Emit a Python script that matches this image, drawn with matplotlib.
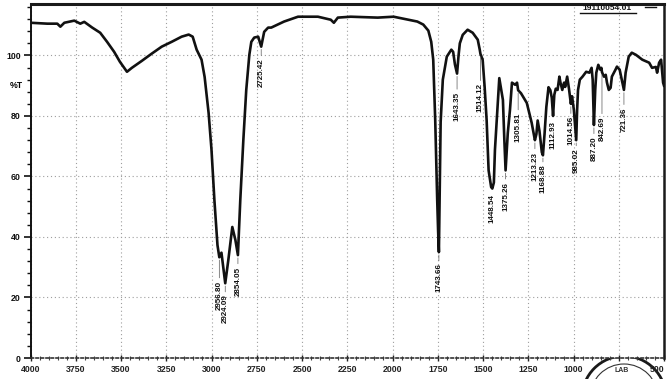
import matplotlib
matplotlib.use("Agg")
import matplotlib.pyplot as plt
import numpy as np
from matplotlib.ticker import MultipleLocator, FixedLocator
from matplotlib.patches import Circle
from matplotlib.lines import Line2D

# ---------------- data ----------------
wavenumber = [
    4000, 3907, 3852, 3835, 3813, 3758, 3725, 3703, 3659, 3615,
    3577, 3538, 3506, 3467, 3440, 3385, 3330, 3275, 3220, 3165,
    3126, 3104, 3082, 3055, 3038, 3016, 3000, 2984, 2967, 2956.8,
    2945, 2924.1, 2907, 2885, 2868, 2854.05, 2841, 2824, 2808, 2791,
    2780, 2764, 2742, 2725.42, 2709, 2687, 2670, 2599, 2522, 2412,
    2341, 2324, 2302, 2231, 2082, 1994, 1863, 1830, 1802, 1786,
    1775, 1764, 1753, 1748, 1743.66, 1739, 1734, 1722, 1700, 1675,
    1665, 1655, 1643.35, 1635, 1628, 1612, 1585, 1557, 1529, 1518,
    1514.12, 1502, 1491, 1480, 1469, 1455, 1448.54, 1440, 1434, 1424,
    1410, 1390, 1382, 1375.26, 1363, 1351, 1340, 1322, 1312, 1305.81,
    1290, 1258, 1231, 1213.23, 1205, 1198, 1188, 1175, 1168.88, 1160,
    1150, 1138, 1128, 1120, 1112.93, 1106, 1098, 1088, 1078, 1072,
    1062, 1052, 1046, 1035, 1025, 1014.56, 1008, 998, 985.02, 980,
    975, 965, 950, 930, 912, 900, 894, 887.2, 880, 874,
    863, 852, 846, 842.69, 832, 822, 815, 805, 795, 788,
    768, 760, 745, 730, 721.36, 712, 695, 678, 655, 620,
    582, 566, 545, 538, 527, 516, 505, 500,
]
transmittance = [
    110.8, 110.5, 110.5, 109.5, 110.8, 111.5, 110.5, 111.1, 109.2, 107.5,
    104.5, 101.2, 97.9, 94.6, 95.9, 98.2, 100.6, 102.9, 104.5, 106.2,
    106.9, 106.2, 101.9, 98.6, 92.9, 81.0, 68.8, 52.2, 37.3, 33.3,
    34.8, 24.7, 32.4, 43.3, 39.0, 34.0, 52.2, 72.1, 88.6, 100.2,
    104.5, 105.9, 106.2, 102.9, 107.8, 109.2, 109.2, 111.2, 112.8, 112.8,
    111.8, 110.8, 112.5, 112.8, 112.5, 112.8, 111.2, 110.2, 108.2, 104.5,
    98.6, 78.7, 52.2, 42.0, 35.0, 55.0, 78.0, 92.0, 99.6, 101.9,
    101.2, 97.0, 94.0, 100.0, 104.0, 106.8, 108.5, 107.5, 105.2, 101.9,
    100.5, 98.6, 89.6, 78.7, 62.0, 56.5, 56.0, 58.0, 68.8, 78.7,
    92.5, 85.3, 72.0, 62.0, 74.4, 82.0, 91.0, 90.3, 91.0, 88.5,
    87.5, 84.3, 77.7, 72.0, 74.0, 78.5, 75.0, 68.0, 67.0, 74.0,
    83.0, 89.5, 88.5, 86.0, 80.0, 87.0, 89.0, 88.6, 93.0, 91.0,
    88.6, 91.0, 89.6, 93.0, 89.0, 84.0, 86.5, 82.0, 72.0, 82.0,
    88.6, 92.0, 93.0, 94.6, 94.3, 95.9, 92.0, 77.0, 88.6, 94.3,
    96.9, 95.3, 95.9, 94.5, 93.0, 93.6, 91.0, 88.6, 89.3, 93.0,
    95.3, 96.3, 95.3, 91.0, 88.6, 94.3, 99.6, 100.9, 100.2, 98.6,
    97.6, 95.9, 96.2, 94.3, 97.6, 98.6, 91.0, 90.0,
]

peak_wavenumbers = [2956.80, 2924.09, 2854.05, 2725.42, 1743.66, 1643.35,
                    1514.12, 1448.54, 1375.26, 1305.81, 1213.23, 1168.88,
                    1112.93, 1014.56, 985.02, 887.20, 842.69, 721.36]
peak_labels = ["2956.80", "2924.09", "2854.05", "2725.42", "1743.66", "1643.35",
               "1514.12", "1448.54", "1375.26", "1305.81", "1213.23", "1168.88",
               "1112.93", "1014.56", "985.02", "887.20", "842.69", "721.36"]

# 750 is hidden under the lab stamp in the reference, so it carries no label
x_ticks = [4000, 3750, 3500, 3250, 3000, 2750, 2500, 2250, 2000,
           1750, 1500, 1250, 1000, 750, 500]
x_tick_labels = ["4000", "3750", "3500", "3250", "3000", "2750", "2500", "2250",
                 "2000", "1750", "1500", "1250", "1000", "", "500"]
y_ticks = [0, 20, 40, 60, 80, 100]
y_tick_labels = ["0", "20", "40", "60", "80", "100"]
y_axis_label = "%T"
spectrum_id = "19110054.01"

# label placement (pixel gap below each band minimum)
label_gap_px = [22, 10, 10, 10, 10, 17, 28, 4, 10, 21, 10, 8, 4, 11, 7, 10, 43, 16]

# ---------------- figure ----------------
W, H = 669, 379
fig = plt.figure(figsize=(W / 100, H / 100), dpi=100)
fig.patch.set_facecolor("white")
L, R, T, B = 30.5, 664, 4, 358
ax = fig.add_axes([L / W, 1 - B / H, (R - L) / W, (B - T) / H])
ax.patch.set_facecolor("white")

FONT = "Liberation Sans"

ax.plot(wavenumber, transmittance, color="#111111", lw=1.9, solid_joinstyle="round",
        zorder=3)

ax.set_xlim(4000, 500)
ax.set_ylim(0, 117)

ax.xaxis.set_major_locator(FixedLocator(x_ticks))
ax.set_xticklabels(x_tick_labels, fontsize=6.3, fontweight="bold", family=FONT)
ax.get_xticklabels()[-1].set_horizontalalignment("right")
ax.xaxis.set_minor_locator(MultipleLocator(50))
ax.yaxis.set_major_locator(FixedLocator(y_ticks))
ax.set_yticklabels(y_tick_labels, fontsize=6.3, fontweight="bold", family=FONT)
ax.yaxis.set_minor_locator(MultipleLocator(4))

ax.tick_params(axis="y", which="major", direction="out", length=5, width=1.2,
               pad=2, colors="#111111")
ax.tick_params(axis="y", which="minor", direction="out", length=3, width=1.0,
               colors="#111111")
ax.tick_params(axis="x", which="major", direction="inout", length=4, width=1.0,
               pad=3, colors="#222222")
ax.tick_params(axis="x", which="minor", direction="inout", length=2.5, width=0.8,
               colors="#444444")

ax.grid(True, which="major", linestyle=(0, (1, 2.5)), color="0.62", lw=0.8, zorder=0)

ax.spines["left"].set_linewidth(1.4)
ax.spines["left"].set_color("#111111")
ax.spines["top"].set_linewidth(2.2)
ax.spines["top"].set_color("#1a1a1a")
ax.spines["right"].set_linewidth(1.8)
ax.spines["right"].set_color("#1a1a1a")
ax.spines["bottom"].set_linewidth(1.2)
ax.spines["bottom"].set_color("#333333")
ax.spines["bottom"].set_linestyle((0, (1.5, 1.5)))

# %T label in the y tick column
ax.text(-0.0125, 90.2, y_axis_label, transform=ax.get_yaxis_transform(),
        ha="right", va="center", fontsize=6.3, fontweight="bold", family=FONT)

# band labels
wn_inc = np.array(wavenumber[::-1])
tr_inc = np.array(transmittance[::-1])
for wn, lab, gap in zip(peak_wavenumbers, peak_labels, label_gap_px):
    tmin = float(np.interp(wn, wn_inc, tr_inc))
    gap_pt = gap * 0.72
    ax.annotate(lab, xy=(wn, tmin), xytext=(0, -gap_pt - 1), textcoords="offset points",
                rotation=90, ha="center", va="top", fontsize=5.8, fontweight="bold",
                family=FONT, color="#111111", zorder=4,
                arrowprops=dict(arrowstyle="-", lw=0.5, color="0.35",
                                shrinkA=0, shrinkB=2) if gap > 6 else None)

# spectrum id box at top right
fig.text(607 / W, 1 - 8 / H, spectrum_id, ha="center", va="center", fontsize=6,
         fontweight="bold", family=FONT, color="#111111")
fig.add_artist(Line2D([580 / W, 636 / W], [1 - 13 / H, 1 - 13 / H], lw=1.0, color="#111111"))
fig.add_artist(Line2D([645 / W, 656 / W], [1 - 7 / H, 1 - 7 / H], lw=1.0, color="#111111"))

# round stamp at the bottom right (drawn beneath the axes)
fig.add_artist(Circle((624 / 100, (H - 398) / 100), 0.42, transform=fig.dpi_scale_trans,
                      facecolor="white", edgecolor="#1a1a1a", lw=2.0, zorder=-2,
                      clip_on=False))
fig.add_artist(Circle((624 / 100, (H - 398) / 100), 0.34, transform=fig.dpi_scale_trans,
                      facecolor="none", edgecolor="#333333", lw=0.8, zorder=-2,
                      clip_on=False))
fig.text(622 / W, 1 - 371 / H, "LAB", ha="center", va="center", fontsize=5,
         fontweight="bold", family=FONT, color="#333333", zorder=-1)

fig.savefig("out.png", dpi=100, facecolor="white")
